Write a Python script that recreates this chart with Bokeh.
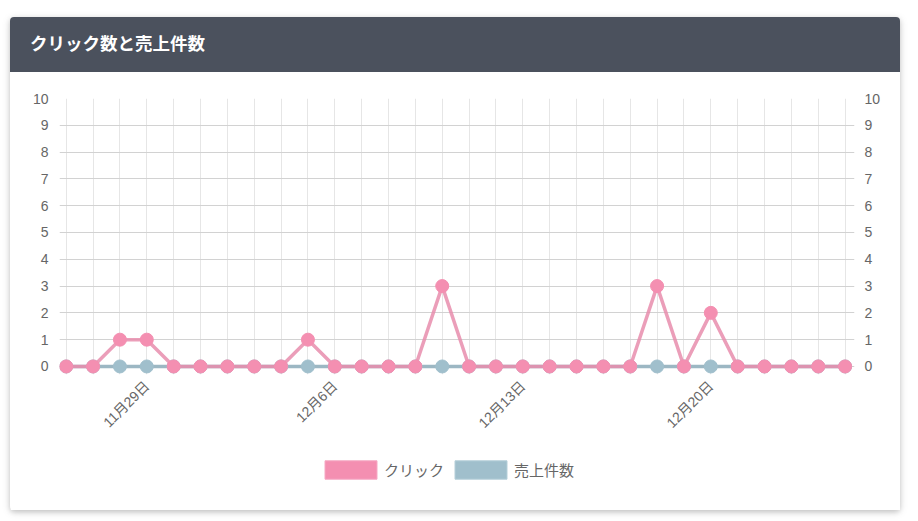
import math
from bokeh.plotting import figure
from bokeh.models import (Div, FixedTicker, LinearAxis, Legend, LegendItem, Range1d)
from bokeh.layouts import column
from bokeh.embed import file_html
from bokeh.resources import INLINE

# ---- data ----
title = "クリック数と売上件数"
dates = ["11月26日", "11月27日", "11月28日", "11月29日", "11月30日",
         "12月1日", "12月2日", "12月3日", "12月4日", "12月5日",
         "12月6日", "12月7日", "12月8日", "12月9日", "12月10日",
         "12月11日", "12月12日", "12月13日", "12月14日", "12月15日",
         "12月16日", "12月17日", "12月18日", "12月19日", "12月20日",
         "12月21日", "12月22日", "12月23日", "12月24日", "12月25日"]
clicks = [0, 0, 1, 1, 0, 0, 0, 0, 0, 1,
          0, 0, 0, 0, 3, 0, 0, 0, 0, 0,
          0, 0, 3, 0, 2, 0, 0, 0, 0, 0]
sales = [0, 0, 0, 0, 0, 0, 0, 0, 0, 0,
         0, 0, 0, 0, 0, 0, 0, 0, 0, 0,
         0, 0, 0, 0, 0, 0, 0, 0, 0, 0]
shown_labels = ["11月29日", "12月6日", "12月13日", "12月20日"]
y_ticks = [0, 1, 2, 3, 4, 5, 6, 7, 8, 9, 10]
series_names = ["クリック", "売上件数"]

# ---- styles ----
PINK = "#F48FB1"
PINK_LINE = "#E88DAD"
BLUE = "#A0BFCC"
BLUE_LINE = "#9CB7C3"
TXT = "#666666"
NUM_FONT = "Liberation Sans, Noto Sans CJK JP"
JP_FONT = "Noto Sans CJK JP"

x = list(range(len(dates)))

p = figure(width=890, height=368,
           x_range=Range1d(-0.25, len(dates) - 1 + 0.35),
           y_range=Range1d(-0.3, y_ticks[-1]),
           output_backend="svg", toolbar_location=None,
           min_border_left=49, min_border_right=46,
           min_border_top=26, min_border_bottom=66, margin=0)
p.outline_line_color = None
p.background_fill_color = "white"
p.border_fill_color = "white"

# grids
p.xgrid.ticker = FixedTicker(ticks=x)
p.xgrid.grid_line_color = "#e6e6e6"
p.ygrid.ticker = FixedTicker(ticks=y_ticks)
p.ygrid.grid_line_color = "#d2d2d2"

# x axis
xa = p.xaxis[0]
xa.ticker = FixedTicker(ticks=[i for i, d in enumerate(dates) if d in shown_labels])
xa.major_label_overrides = {i: d for i, d in enumerate(dates)}
xa.major_label_orientation = math.pi / 4
xa.axis_line_color = None
xa.major_tick_line_color = None
xa.minor_tick_line_color = None
xa.major_label_standoff = 3
xa.major_label_text_font_size = "14px"
xa.major_label_text_color = TXT
xa.major_label_text_font = NUM_FONT

# y axes
ya = p.yaxis[0]
ra = LinearAxis()
p.add_layout(ra, "right")
for a in (ya, ra):
    a.ticker = FixedTicker(ticks=y_ticks)
    a.axis_line_color = None
    a.major_tick_line_color = None
    a.minor_tick_line_color = None
    a.major_label_standoff = 5
    a.major_label_text_font_size = "14px"
    a.major_label_text_color = TXT
    a.major_label_text_font = NUM_FONT
ra.major_label_standoff = 4

# data
p.line(x, sales, line_color=BLUE_LINE, line_width=3.5)
p.scatter(x, sales, size=13, fill_color=BLUE, line_color=BLUE)
p.line(x, clicks, line_color=PINK_LINE, line_width=3.5, line_alpha=0.85)
p.scatter(x, clicks, size=13, fill_color=PINK, line_color=PINK)

# legend strip (separate figure below the chart); swatch glyphs sit outside its ranges
lg = figure(width=890, height=70, x_range=Range1d(0, 1), y_range=Range1d(0, 1),
            x_axis_type=None, y_axis_type=None, output_backend="svg",
            toolbar_location=None, min_border=0, margin=0)
lg.outline_line_color = None
lg.grid.visible = False
lc = lg.quad(left=[-2], right=[-1], top=[-1], bottom=[-2], fill_color=PINK, line_color="#F6A9C4")
lb = lg.quad(left=[-2], right=[-1], top=[-1], bottom=[-2], fill_color=BLUE, line_color="#B5CFD9")
legend = Legend(items=[LegendItem(label=series_names[0], renderers=[lc]),
                       LegendItem(label=series_names[1], renderers=[lb])],
                location=(259, 29), orientation="horizontal",
                glyph_width=65, glyph_height=23, label_standoff=1, spacing=4,
                padding=0, margin=0, border_line_color=None,
                background_fill_alpha=0,
                label_text_font_size="15px", label_text_color=TXT,
                label_text_font=JP_FONT)
lg.add_layout(legend)

header = Div(text=('<div style="padding-left:20px;line-height:52px;color:white;'
                   'font-size:17.5px;font-weight:bold;font-family:\'Noto Sans CJK JP\';">'
                   + title + '</div>'),
             width=890, height=55, margin=0,
             styles={"background-color": "#4B515D", "border-radius": "4px 4px 0 0"})

layout = column(header, p, lg, margin=(17, 0, 0, 10), spacing=0,
                styles={"box-shadow": "0 2px 5px rgba(0,0,0,0.16), 0 2px 10px rgba(0,0,0,0.12)",
                        "border-radius": "4px", "background-color": "white"})

open("out.html", "w").write(file_html(layout, INLINE))
